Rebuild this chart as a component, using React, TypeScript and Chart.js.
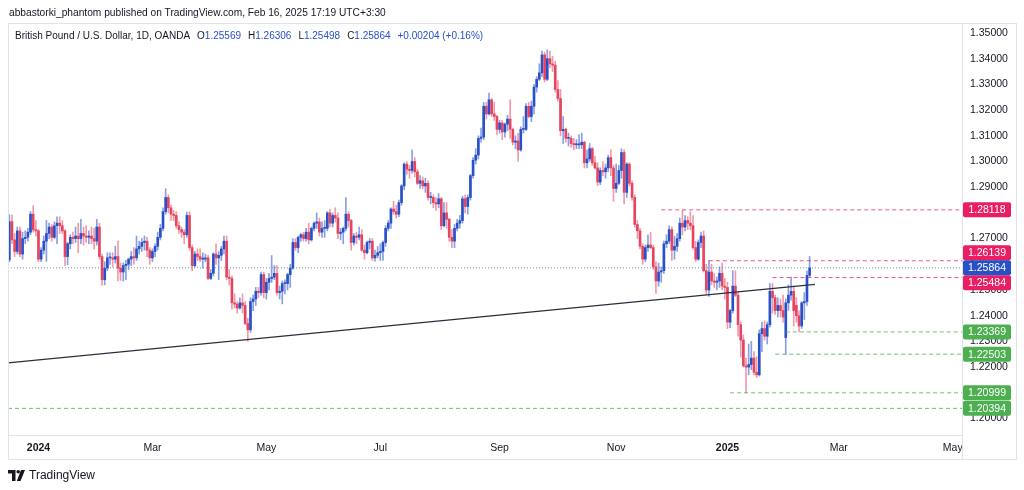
import { useEffect, useRef } from "react";
import { Chart, registerables } from "chart.js";
Chart.register(...registerables);

type Candle = [number, number, number, number]; // open, high, low, close

const dec2023: Candle[] = [
  [1.2617,1.2793,1.2610,1.2766],[1.2766,1.2792,1.2680,1.2695],[1.2695,1.2720,1.2630,1.2650],
  [1.2650,1.2745,1.2640,1.2730],[1.2730,1.2745,1.2630,1.2640],[1.2640,1.2725,1.2620,1.2700],
  [1.2700,1.2730,1.2680,1.2705],[1.2705,1.2740,1.2690,1.2725],[1.2725,1.2805,1.2715,1.2795],
  [1.2795,1.2828,1.2725,1.2735],[1.2735,1.2770,1.2710,1.2730],
];
const jan2024: Candle[] = [
  [1.2730,1.2735,1.2610,1.2620],[1.2620,1.2665,1.2610,1.2655],[1.2655,1.2710,1.2640,1.2690],
  [1.2690,1.2771,1.2611,1.2720],[1.2720,1.2760,1.2700,1.2745],[1.2745,1.2755,1.2690,1.2705],
  [1.2705,1.2765,1.2700,1.2750],[1.2750,1.2785,1.2680,1.2760],[1.2760,1.2785,1.2720,1.2750],
  [1.2750,1.2770,1.2720,1.2730],[1.2730,1.2735,1.2595,1.2630],[1.2630,1.2685,1.2598,1.2680],
  [1.2680,1.2715,1.2660,1.2705],[1.2705,1.2725,1.2680,1.2700],[1.2700,1.2745,1.2685,1.2710],
  [1.2710,1.2760,1.2645,1.2700],[1.2700,1.2775,1.2680,1.2720],[1.2720,1.2745,1.2675,1.2710],
  [1.2710,1.2750,1.2685,1.2705],[1.2705,1.2730,1.2680,1.2710],[1.2710,1.2745,1.2680,1.2700],
  [1.2700,1.2740,1.2660,1.2690],
];
const feb2024: Candle[] = [
  [1.2690,1.2775,1.2675,1.2745],[1.2745,1.2760,1.2620,1.2630],[1.2630,1.2640,1.2518,1.2540],
  [1.2540,1.2610,1.2520,1.2585],[1.2585,1.2645,1.2575,1.2625],[1.2625,1.2645,1.2600,1.2625],
  [1.2625,1.2645,1.2590,1.2620],[1.2620,1.2670,1.2605,1.2630],[1.2630,1.2690,1.2535,1.2585],
  [1.2585,1.2605,1.2537,1.2570],[1.2570,1.2605,1.2535,1.2595],[1.2595,1.2615,1.2540,1.2600],
  [1.2600,1.2625,1.2580,1.2620],[1.2620,1.2650,1.2595,1.2630],[1.2630,1.2665,1.2600,1.2625],
  [1.2625,1.2710,1.2615,1.2660],[1.2660,1.2690,1.2640,1.2670],[1.2670,1.2700,1.2650,1.2685],
  [1.2685,1.2710,1.2655,1.2690],[1.2690,1.2705,1.2630,1.2655],[1.2655,1.2665,1.2600,1.2625],
];
const mar2024: Candle[] = [
  [1.2625,1.2660,1.2610,1.2650],[1.2650,1.2680,1.2630,1.2670],[1.2670,1.2725,1.2655,1.2705],
  [1.2705,1.2755,1.2695,1.2740],[1.2740,1.2820,1.2730,1.2805],[1.2805,1.2894,1.2795,1.2860],
  [1.2860,1.2870,1.2800,1.2820],[1.2820,1.2830,1.2770,1.2795],[1.2795,1.2810,1.2770,1.2790],
  [1.2790,1.2805,1.2740,1.2750],[1.2750,1.2765,1.2720,1.2735],[1.2735,1.2745,1.2705,1.2725],
  [1.2725,1.2735,1.2680,1.2715],[1.2715,1.2803,1.2705,1.2790],[1.2790,1.2805,1.2655,1.2665],
  [1.2665,1.2675,1.2575,1.2595],[1.2595,1.2650,1.2590,1.2640],[1.2640,1.2660,1.2615,1.2630],
  [1.2630,1.2660,1.2610,1.2620],[1.2620,1.2645,1.2585,1.2620],[1.2620,1.2640,1.2610,1.2625],
];
const apr2024: Candle[] = [
  [1.2625,1.2635,1.2540,1.2545],[1.2545,1.2580,1.2540,1.2565],[1.2565,1.2645,1.2555,1.2640],
  [1.2640,1.2680,1.2600,1.2625],[1.2625,1.2650,1.2540,1.2635],[1.2635,1.2670,1.2615,1.2660],
  [1.2660,1.2710,1.2640,1.2690],[1.2690,1.2710,1.2540,1.2550],[1.2550,1.2580,1.2520,1.2545],
  [1.2545,1.2555,1.2425,1.2450],[1.2450,1.2485,1.2430,1.2445],[1.2445,1.2455,1.2410,1.2430],
  [1.2430,1.2470,1.2425,1.2450],[1.2450,1.2485,1.2410,1.2440],[1.2440,1.2455,1.2365,1.2370],
  [1.2370,1.2390,1.2300,1.2345],[1.2345,1.2470,1.2335,1.2455],[1.2455,1.2480,1.2420,1.2465],
  [1.2465,1.2510,1.2440,1.2495],[1.2495,1.2510,1.2470,1.2490],[1.2490,1.2570,1.2480,1.2560],
  [1.2560,1.2570,1.2470,1.2490],
];
const may2024: Candle[] = [
  [1.2490,1.2545,1.2465,1.2530],[1.2530,1.2565,1.2500,1.2545],[1.2545,1.2634,1.2530,1.2550],
  [1.2550,1.2595,1.2540,1.2565],[1.2565,1.2595,1.2480,1.2490],[1.2490,1.2515,1.2465,1.2495],
  [1.2495,1.2535,1.2446,1.2525],[1.2525,1.2540,1.2485,1.2525],[1.2525,1.2565,1.2500,1.2560],
  [1.2560,1.2600,1.2510,1.2585],[1.2585,1.2700,1.2580,1.2685],[1.2685,1.2700,1.2655,1.2665],
  [1.2665,1.2710,1.2645,1.2705],[1.2705,1.2720,1.2690,1.2715],[1.2715,1.2725,1.2690,1.2700],
  [1.2700,1.2740,1.2690,1.2725],[1.2725,1.2760,1.2680,1.2695],[1.2695,1.2745,1.2690,1.2740],
  [1.2740,1.2765,1.2730,1.2760],[1.2760,1.2800,1.2740,1.2765],[1.2765,1.2780,1.2710,1.2725],
  [1.2725,1.2765,1.2705,1.2740],[1.2740,1.2770,1.2705,1.2740],
];
const jun2024: Candle[] = [
  [1.2740,1.2805,1.2730,1.2800],[1.2800,1.2815,1.2745,1.2760],[1.2760,1.2800,1.2745,1.2790],
  [1.2790,1.2820,1.2765,1.2780],[1.2780,1.2800,1.2700,1.2720],[1.2720,1.2740,1.2695,1.2725],
  [1.2725,1.2745,1.2680,1.2740],[1.2740,1.2860,1.2730,1.2795],[1.2795,1.2805,1.2745,1.2770],
  [1.2770,1.2775,1.2655,1.2685],[1.2685,1.2720,1.2675,1.2710],[1.2710,1.2725,1.2680,1.2705],
  [1.2705,1.2745,1.2695,1.2715],[1.2715,1.2735,1.2650,1.2655],[1.2655,1.2675,1.2620,1.2645],
  [1.2645,1.2690,1.2640,1.2685],[1.2685,1.2700,1.2660,1.2690],[1.2690,1.2700,1.2615,1.2625],
  [1.2625,1.2655,1.2612,1.2635],[1.2635,1.2670,1.2625,1.2645],
];
const jul2024: Candle[] = [
  [1.2645,1.2680,1.2615,1.2650],[1.2650,1.2690,1.2615,1.2685],[1.2685,1.2750,1.2670,1.2740],
  [1.2740,1.2770,1.2730,1.2760],[1.2760,1.2820,1.2740,1.2815],[1.2815,1.2845,1.2795,1.2805],
  [1.2805,1.2830,1.2780,1.2795],[1.2795,1.2850,1.2785,1.2840],[1.2840,1.2910,1.2830,1.2905],
  [1.2905,1.2995,1.2890,1.2990],[1.2990,1.3000,1.2950,1.2970],[1.2970,1.2985,1.2935,1.2965],
  [1.2965,1.3044,1.2955,1.3000],[1.3000,1.3015,1.2940,1.2960],[1.2960,1.2970,1.2910,1.2915],
  [1.2915,1.2945,1.2895,1.2925],[1.2925,1.2940,1.2895,1.2905],[1.2905,1.2935,1.2880,1.2915],
  [1.2915,1.2925,1.2850,1.2860],[1.2860,1.2880,1.2835,1.2860],[1.2860,1.2870,1.2820,1.2840],
  [1.2840,1.2860,1.2810,1.2835],[1.2835,1.2875,1.2820,1.2855],
];
const aug2024: Candle[] = [
  [1.2855,1.2860,1.2735,1.2750],[1.2750,1.2840,1.2745,1.2800],[1.2800,1.2840,1.2740,1.2775],
  [1.2775,1.2780,1.2690,1.2705],[1.2705,1.2735,1.2665,1.2690],[1.2690,1.2755,1.2665,1.2740],
  [1.2740,1.2775,1.2730,1.2760],[1.2760,1.2790,1.2740,1.2770],[1.2770,1.2865,1.2760,1.2855],
  [1.2855,1.2870,1.2800,1.2825],[1.2825,1.2870,1.2795,1.2860],[1.2860,1.2950,1.2850,1.2945],
  [1.2945,1.3015,1.2935,1.3005],[1.3005,1.3050,1.2990,1.3025],[1.3025,1.3100,1.3010,1.3090],
  [1.3090,1.3130,1.3075,1.3095],[1.3095,1.3230,1.3085,1.3215],[1.3215,1.3230,1.3165,1.3185],
  [1.3185,1.3266,1.3180,1.3240],[1.3240,1.3245,1.3175,1.3185],[1.3185,1.3230,1.3160,1.3175],
  [1.3175,1.3180,1.3105,1.3125],
];
const sep2024: Candle[] = [
  [1.3125,1.3160,1.3110,1.3150],[1.3150,1.3160,1.3085,1.3115],[1.3115,1.3150,1.3095,1.3145],
  [1.3145,1.3180,1.3120,1.3165],[1.3165,1.3240,1.3090,1.3125],[1.3125,1.3130,1.3065,1.3075],
  [1.3075,1.3100,1.3050,1.3080],[1.3080,1.3110,1.3000,1.3045],[1.3045,1.3135,1.3040,1.3125],
  [1.3125,1.3175,1.3110,1.3125],[1.3125,1.3225,1.3120,1.3215],[1.3215,1.3230,1.3170,1.3175],
  [1.3175,1.3235,1.3155,1.3215],[1.3215,1.3300,1.3185,1.3290],[1.3290,1.3330,1.3270,1.3320],
  [1.3320,1.3380,1.3315,1.3345],[1.3345,1.3430,1.3330,1.3415],[1.3415,1.3425,1.3310,1.3320],
  [1.3320,1.3434,1.3315,1.3400],[1.3400,1.3430,1.3365,1.3380],[1.3380,1.3410,1.3350,1.3375],
];
const oct2024: Candle[] = [
  [1.3375,1.3390,1.3270,1.3280],[1.3280,1.3315,1.3235,1.3245],[1.3245,1.3280,1.3100,1.3120],
  [1.3120,1.3175,1.3070,1.3125],[1.3125,1.3130,1.3075,1.3090],[1.3090,1.3110,1.3060,1.3090],
  [1.3090,1.3100,1.3055,1.3070],[1.3070,1.3090,1.3045,1.3065],[1.3065,1.3085,1.3050,1.3065],
  [1.3065,1.3105,1.3050,1.3065],[1.3065,1.3110,1.3050,1.3075],[1.3075,1.3080,1.2975,1.2995],
  [1.2995,1.3045,1.2975,1.3010],[1.3010,1.3070,1.3000,1.3050],[1.3050,1.3055,1.2985,1.2995],
  [1.2995,1.3020,1.2970,1.2975],[1.2975,1.2995,1.2906,1.2920],[1.2920,1.2975,1.2910,1.2965],
  [1.2965,1.3000,1.2945,1.2960],[1.2960,1.2990,1.2935,1.2975],[1.2975,1.3025,1.2960,1.3015],
  [1.3015,1.3045,1.2945,1.2975],[1.2975,1.2985,1.2845,1.2895],
];
const nov2024: Candle[] = [
  [1.2895,1.2990,1.2880,1.2915],[1.2915,1.2985,1.2910,1.2965],[1.2965,1.3050,1.2935,1.3035],
  [1.3035,1.3045,1.2835,1.2880],[1.2880,1.2995,1.2860,1.2990],[1.2990,1.2995,1.2905,1.2915],
  [1.2915,1.2925,1.2850,1.2860],[1.2860,1.2870,1.2745,1.2755],[1.2755,1.2770,1.2700,1.2730],
  [1.2730,1.2740,1.2660,1.2670],[1.2670,1.2680,1.2600,1.2620],[1.2620,1.2675,1.2610,1.2665],
  [1.2665,1.2715,1.2650,1.2675],[1.2675,1.2725,1.2660,1.2665],[1.2665,1.2675,1.2580,1.2590],
  [1.2590,1.2610,1.2487,1.2535],[1.2535,1.2605,1.2515,1.2570],[1.2570,1.2590,1.2530,1.2575],
  [1.2575,1.2690,1.2565,1.2680],[1.2680,1.2715,1.2665,1.2690],[1.2690,1.2750,1.2680,1.2735],
];
const dec2024: Candle[] = [
  [1.2735,1.2745,1.2615,1.2655],[1.2655,1.2710,1.2620,1.2670],[1.2670,1.2720,1.2650,1.2700],
  [1.2700,1.2780,1.2690,1.2760],[1.2760,1.2811,1.2715,1.2745],[1.2745,1.2790,1.2730,1.2770],
  [1.2770,1.2785,1.2735,1.2760],[1.2760,1.2805,1.2735,1.2750],[1.2750,1.2790,1.2660,1.2665],
  [1.2665,1.2690,1.2610,1.2620],[1.2620,1.2695,1.2615,1.2685],[1.2685,1.2725,1.2665,1.2710],
  [1.2710,1.2730,1.2570,1.2575],[1.2575,1.2600,1.2485,1.2500],[1.2500,1.2614,1.2475,1.2570],
  [1.2570,1.2600,1.2520,1.2535],[1.2535,1.2565,1.2510,1.2530],[1.2530,1.2550,1.2500,1.2535],
  [1.2535,1.2590,1.2510,1.2565],[1.2565,1.2605,1.2500,1.2515],[1.2515,1.2545,1.2465,1.2510],
];
const jan2025: Candle[] = [
  [1.2510,1.2530,1.2350,1.2375],[1.2375,1.2425,1.2353,1.2420],[1.2420,1.2575,1.2410,1.2515],
  [1.2515,1.2575,1.2475,1.2480],[1.2480,1.2490,1.2320,1.2365],[1.2365,1.2375,1.2239,1.2305],
  [1.2305,1.2325,1.2200,1.2205],[1.2205,1.2235,1.2100,1.2200],[1.2200,1.2290,1.2170,1.2210],
  [1.2210,1.2300,1.2190,1.2235],[1.2235,1.2260,1.2170,1.2180],[1.2180,1.2240,1.2160,1.2170],
  [1.2170,1.2345,1.2165,1.2330],[1.2330,1.2375,1.2260,1.2350],[1.2350,1.2380,1.2305,1.2320],
  [1.2320,1.2375,1.2290,1.2365],[1.2365,1.2525,1.2355,1.2495],[1.2495,1.2525,1.2410,1.2470],
  [1.2470,1.2480,1.2405,1.2420],[1.2420,1.2470,1.2395,1.2440],[1.2440,1.2465,1.2395,1.2420],
  [1.2420,1.2480,1.2375,1.2395],
];
const feb2025: Candle[] = [
  [1.2315,1.2465,1.2249,1.2450],[1.2450,1.2520,1.2420,1.2480],[1.2480,1.2550,1.2460,1.2495],
  [1.2495,1.2515,1.2360,1.2420],[1.2440,1.2470,1.2375,1.2400],[1.2400,1.2420,1.2337,1.2360],
  [1.2360,1.2455,1.2350,1.2450],[1.2450,1.2490,1.2385,1.2455],[1.2455,1.2575,1.2440,1.2557],
  [1.25569,1.26306,1.25498,1.25864],
];

const candleMonths: Candle[][] = [
  dec2023, jan2024, feb2024, mar2024, apr2024, may2024, jun2024, jul2024,
  aug2024, sep2024, oct2024, nov2024, dec2024, jan2025, feb2025,
];

const firstDate = "2023-12-14";
const calendarEnd = "2025-06-30";

const monthTickDates = ["2024-01-02","2024-03-01","2024-05-01","2024-07-01","2024-09-02","2024-11-01","2025-01-02","2025-03-03","2025-05-01"];
const monthTickLabels = ["2024","Mar","May","Jul","Sep","Nov","2025","Mar","May"];

const priceTicks = [1.20,1.21,1.22,1.23,1.24,1.25,1.26,1.27,1.28,1.29,1.30,1.31,1.32,1.33,1.34,1.35];

const levelPrices = [1.28118, 1.26139, 1.25484, 1.23369, 1.22503, 1.20999, 1.20394];
const levelStartDates = ["2024-11-26","2024-12-20","2025-01-27","2025-02-03","2025-01-28","2025-01-03","2023-12-14"];
const levelKinds = ["res","res","res","sup","sup","sup","sup"];

const trendAnchorDates = ["2024-04-22","2025-02-18"];
const trendAnchorPrices = [1.2307, 1.2522];

const UP = "#2850c8";
const DOWN = "#e64560";
const UP_WICK = "rgba(40,80,200,0.55)";
const DOWN_WICK = "rgba(230,69,96,0.55)";
const RES = "#e91e63";
const SUP = "#4caf50";
const FONT = "'Liberation Sans', Arial, sans-serif";
const X_MIN = -0.5;
const X_MAX = 359.5;

function buildCalendar(): string[] {
  const out: string[] = [];
  const d = new Date(firstDate + "T00:00:00Z");
  const end = new Date(calendarEnd + "T00:00:00Z").getTime();
  while (d.getTime() <= end) {
    const wd = d.getUTCDay();
    const m = d.getUTCMonth();
    const day = d.getUTCDate();
    const holiday = (m === 11 && day === 25) || (m === 0 && day === 1);
    if (wd !== 0 && wd !== 6 && !holiday) out.push(d.toISOString().slice(0, 10));
    d.setUTCDate(d.getUTCDate() + 1);
  }
  return out;
}

export default function App() {
  const ref = useRef<HTMLCanvasElement | null>(null);

  useEffect(() => {
    const canvas = ref.current;
    if (!canvas) return;
    const cal = buildCalendar();
    const idx = (d: string) => cal.indexOf(d);
    const candles = candleMonths.flat();
    const last = candles[candles.length - 1];
    const lastClose = last[3];

    const wickData = candles.map((c, i) => ({ x: i, y: [c[2], c[1]] }));
    const bodyData = candles.map((c, i) => ({ x: i, y: [c[0], c[3]] }));
    const isUp = candles.map((c) => c[3] >= c[0]);

    const tickIdx = monthTickDates.map(idx);

    const tx0 = idx(trendAnchorDates[0]);
    const tx1 = idx(trendAnchorDates[1]);
    const slope = (trendAnchorPrices[1] - trendAnchorPrices[0]) / (tx1 - tx0);
    const trendData = [
      { x: X_MIN, y: trendAnchorPrices[0] + (X_MIN - tx0) * slope },
      { x: tx1, y: trendAnchorPrices[1] },
    ];

    const levelSets = levelPrices.map((p, k) => ({
      type: "line" as const,
      data: [{ x: k === levelPrices.length - 1 ? X_MIN : idx(levelStartDates[k]), y: p }, { x: X_MAX, y: p }],
      borderColor: levelKinds[k] === "res" ? "rgba(233,30,99,0.75)" : "rgba(76,175,80,0.8)",
      borderWidth: 1,
      borderDash: [4, 3],
      pointRadius: 0,
      order: 0,
    }));

    const framePlugin = {
      id: "frame",
      beforeDraw(chart: any) {
        const { ctx } = chart;
        ctx.save();
        ctx.fillStyle = "#ffffff";
        ctx.fillRect(0, 0, chart.width, chart.height);
        ctx.restore();
      },
      afterDraw(chart: any) {
        const { ctx, chartArea: a } = chart;
        const ys = chart.scales.y;
        ctx.save();
        ctx.strokeStyle = "#e0e3eb";
        ctx.lineWidth = 1;
        ctx.strokeRect(8.5, 23.5, 1008, 436);
        ctx.beginPath();
        ctx.moveTo(a.right + 0.5, 23);
        ctx.lineTo(a.right + 0.5, 460);
        ctx.moveTo(8, a.bottom + 0.5);
        ctx.lineTo(a.right, a.bottom + 0.5);
        ctx.stroke();

        const items = levelPrices.map((p, k) => ({
          p, color: levelKinds[k] === "res" ? RES : SUP, fixed: false, y: ys.getPixelForValue(p),
        }));
        const cur = { p: lastClose, color: UP, fixed: true, y: ys.getPixelForValue(lastClose) };
        items.forEach((it) => {
          const dy = it.y - cur.y;
          if (Math.abs(dy) < 15) it.y = cur.y + (dy < 0 ? -15 : 15);
        });
        const all = [...items, cur];
        ctx.font = `10.5px ${FONT}`;
        ctx.textAlign = "center";
        ctx.textBaseline = "middle";
        all.forEach((it) => {
          ctx.fillStyle = it.color;
          ctx.beginPath();
          if ((ctx as any).roundRect) (ctx as any).roundRect(a.right + 1, it.y - 7.5, 48, 15, 2);
          else ctx.rect(a.right + 1, it.y - 7.5, 48, 15);
          ctx.fill();
          ctx.fillStyle = "#ffffff";
          ctx.fillText(it.p.toFixed(5), a.right + 25, it.y + 0.5);
        });
        ctx.restore();
      },
    };

    const chart = new Chart(canvas, {
      type: "bar",
      data: {
        datasets: [
          ...levelSets,
          {
            type: "line",
            data: [{ x: X_MIN, y: lastClose }, { x: X_MAX, y: lastClose }],
            borderColor: "rgba(90,110,180,0.75)",
            borderWidth: 1,
            borderDash: [1, 2],
            pointRadius: 0,
            order: 0,
          },
          {
            type: "line",
            data: trendData,
            borderColor: "#2a2e39",
            borderWidth: 1.2,
            pointRadius: 0,
            order: 0,
          },
          {
            type: "bar",
            data: bodyData as any,
            backgroundColor: isUp.map((u) => (u ? UP : DOWN)),
            barThickness: 2,
            minBarLength: 1,
            grouped: false,
            borderWidth: 0,
            borderSkipped: false,
            order: 1,
          },
          {
            type: "bar",
            data: wickData as any,
            backgroundColor: isUp.map((u) => (u ? UP_WICK : DOWN_WICK)),
            barThickness: 1,
            grouped: false,
            borderWidth: 0,
            borderSkipped: false,
            order: 2,
          },
        ] as any,
      },
      options: {
        animation: false,
        responsive: false,
        maintainAspectRatio: false,
        layout: { padding: { left: 8, top: 23, right: 12, bottom: 31 } },
        plugins: { legend: { display: false }, tooltip: { enabled: false } },
        scales: {
          x: {
            type: "linear",
            min: X_MIN,
            max: X_MAX,
            offset: false,
            grid: { display: false, drawTicks: false },
            border: { display: false },
            afterBuildTicks: (s: any) => { s.ticks = tickIdx.map((v) => ({ value: v })); },
            afterFit: (s: any) => { s.height = 24; },
            ticks: {
              autoSkip: false,
              maxRotation: 0,
              padding: 7,
              color: "#131722",
              font: (c: any) => ({
                family: FONT,
                size: 10.5,
                weight: /^\d{4}$/.test(monthTickLabels[c.index] || "") ? "bold" : "normal",
              }),
              callback: (_v: any, i: number) => monthTickLabels[i],
            },
          },
          y: {
            type: "linear",
            position: "right",
            min: 1.19358,
            max: 1.353891,
            grid: { display: false, drawTicks: false },
            border: { display: false },
            afterBuildTicks: (s: any) => { s.ticks = priceTicks.map((v) => ({ value: v })); },
            afterFit: (s: any) => { s.width = 50; },
            ticks: {
              padding: 8,
              color: "#131722",
              font: { family: FONT, size: 10.5 },
              callback: (v: any) => Number(v).toFixed(5),
            },
          },
        },
      },
      plugins: [framePlugin],
    } as any);
    return () => chart.destroy();
  }, []);

  const blue = { color: UP };
  return (
    <div style={{ position: "fixed", left: 0, top: 0, width: 1024, height: 490, background: "#fff", overflow: "hidden", fontFamily: FONT }}>
      <canvas ref={ref} width={1024} height={490} style={{ position: "absolute", left: 0, top: 0, width: 1024, height: 490 }} />
      <div style={{ position: "absolute", left: 9, top: 6, fontSize: 10.2, lineHeight: "14px", color: "#131722", whiteSpace: "nowrap" }}>
        abbastorki_phantom published on TradingView.com, Feb 16, 2025 17:19 UTC+3:30
      </div>
      <div style={{ position: "absolute", left: 15, top: 29, fontSize: 10, lineHeight: "14px", color: "#131722", whiteSpace: "nowrap" }}>
        British Pound / U.S. Dollar, 1D, OANDA
        <span style={{ marginLeft: 7 }}>O</span><span style={blue}>1.25569</span>
        <span style={{ marginLeft: 7 }}>H</span><span style={blue}>1.26306</span>
        <span style={{ marginLeft: 7 }}>L</span><span style={blue}>1.25498</span>
        <span style={{ marginLeft: 7 }}>C</span><span style={blue}>1.25864</span>
        <span style={{ marginLeft: 7, ...blue }}>+0.00204 (+0.16%)</span>
      </div>
      <div style={{ position: "absolute", left: 8, top: 468, display: "flex", alignItems: "center", gap: 4 }}>
        <svg width="17" height="11" viewBox="0 0 17 11">
          <path d="M0 0H7.5V11H4V3.5H0Z" fill="#131722" />
          <circle cx="10.2" cy="1.8" r="1.8" fill="#131722" />
          <path d="M13 0H17L12.5 11H8.8Z" fill="#131722" />
        </svg>
        <span style={{ fontSize: 12, color: "#131722", lineHeight: "14px" }}>TradingView</span>
      </div>
    </div>
  );
}
